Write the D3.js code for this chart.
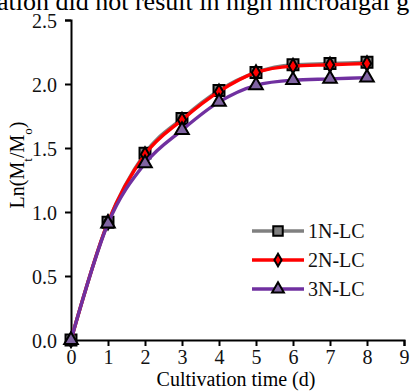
<!DOCTYPE html>
<html>
<head>
<meta charset="utf-8">
<script src="https://cdn.jsdelivr.net/npm/d3@7"></script>
<style>
  body { margin: 0; background: #fff; }
  text { font-family: "Liberation Serif", "Times New Roman", serif; }
</style>
</head>
<body>
<svg id="chart" width="410" height="392"></svg>
<script>
// data
var days = [0, 1, 2, 3, 4, 5, 6, 7, 8];
var lc1 = [0, 0.92, 1.46, 1.73, 1.95, 2.09, 2.15, 2.16, 2.17];
var lc2 = [0, 0.92, 1.45, 1.72, 1.94, 2.09, 2.14, 2.15, 2.16];
var lc3 = [0, 0.91, 1.38, 1.64, 1.86, 1.99, 2.03, 2.04, 2.05];
var seriesNames = ["1N-LC", "2N-LC", "3N-LC"];
var xTicks = [0, 1, 2, 3, 4, 5, 6, 7, 8, 9];
var yTicks = [0, 0.5, 1.0, 1.5, 2.0, 2.5];

var svg = d3.select("#chart");

var x = d3.scaleLinear().domain([0, 9]).range([71, 404]);
var y = d3.scaleLinear().domain([0, 2.5]).range([340, 20]);

// caption fragment cut at the top
svg.append("text")
   .attr("x", -3).attr("y", 10)
   .style("font-size", "26px")
   .text("ation did not result in high microalgal g");

// axes
var xAxis = svg.append("g")
   .attr("transform", "translate(0,340)")
   .call(d3.axisBottom(x).tickValues(xTicks).tickSize(6).tickPadding(4).tickFormat(d3.format("d")));
var yAxis = svg.append("g")
   .attr("transform", "translate(71,0)")
   .call(d3.axisLeft(y).tickValues(yTicks).tickSize(6).tickPadding(8).tickFormat(d3.format(".1f")));

[xAxis, yAxis].forEach(function(a) {
  a.select(".domain").attr("stroke", "#000").attr("stroke-width", 2);
  a.selectAll(".tick line").attr("stroke", "#000").attr("stroke-width", 2);
  a.selectAll(".tick text")
   .style("font-family", "Liberation Serif, serif")
   .style("font-size", "20px")
   .attr("fill", "#111");
});
yAxis.selectAll(".tick text").attr("dy", "0.35em");

// axis titles
svg.append("text")
   .attr("x", 236).attr("y", 386)
   .attr("text-anchor", "middle")
   .style("font-size", "20px")
   .text("Cultivation time (d)");

var yt = svg.append("text")
   .attr("transform", "translate(24,165) rotate(-90)")
   .attr("text-anchor", "middle")
   .style("font-size", "20px");
yt.append("tspan").text("Ln(M");
yt.append("tspan").attr("baseline-shift", "sub").style("font-size", "13px").text("t");
yt.append("tspan").text("/M");
yt.append("tspan").attr("baseline-shift", "sub").style("font-size", "13px").text("o");
yt.append("tspan").text(")");

var series = [
  { name: seriesNames[0], values: lc1, line: "#808080", fill: "#7f7f7f", shape: d3.symbolSquare, size: 120 },
  { name: seriesNames[1], values: lc2, line: "#ff0000", fill: "#ff0000", shape: d3.symbolDiamond, size: 60 },
  { name: seriesNames[2], values: lc3, line: "#7030a0", fill: "#8064a2", shape: d3.symbolTriangle, size: 80 }
];

var line = d3.line()
  .x(function(d, i) { return x(days[i]); })
  .y(function(d) { return y(d); })
  .curve(d3.curveMonotoneX);

series.forEach(function(s) {
  svg.append("path")
     .datum(s.values)
     .attr("d", line)
     .attr("fill", "none")
     .attr("stroke", s.line)
     .attr("stroke-width", 3.4);

  svg.selectAll(null)
     .data(s.values)
     .enter().append("path")
     .attr("transform", function(d, i) { return "translate(" + x(days[i]) + "," + y(d) + ")"; })
     .attr("d", d3.symbol().type(s.shape).size(s.size))
     .attr("fill", s.fill)
     .attr("stroke", "#000")
     .attr("stroke-width", 2);
});

// legend
var legend = svg.append("g");
series.forEach(function(s, i) {
  var ly = 231 + i * 29;
  legend.append("line")
     .attr("x1", 252).attr("x2", 304)
     .attr("y1", ly).attr("y2", ly)
     .attr("stroke", s.line).attr("stroke-width", 3.4);
  legend.append("path")
     .attr("transform", "translate(278," + ly + ")")
     .attr("d", d3.symbol().type(s.shape).size(s.size * 0.75))
     .attr("fill", s.fill)
     .attr("stroke", "#000")
     .attr("stroke-width", 2);
  legend.append("text")
     .attr("x", 308).attr("y", ly + 7)
     .style("font-size", "20px")
     .attr("fill", "#111")
     .text(s.name);
});
</script>
</body>
</html>
